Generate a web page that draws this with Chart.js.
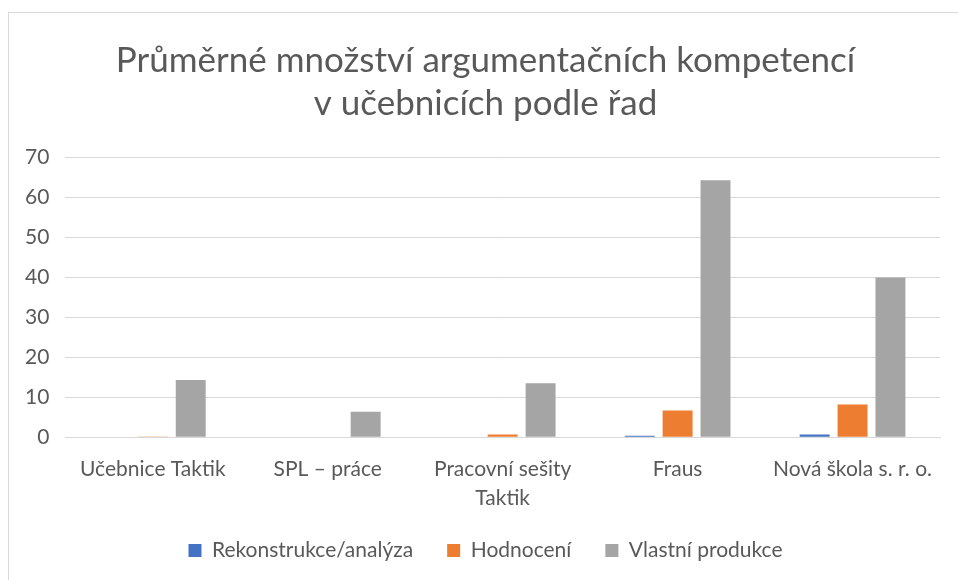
<!DOCTYPE html>
<html>
<head>
<meta charset="utf-8">
<script src="https://cdn.jsdelivr.net/npm/chart.js@4"></script>
<style>
  body { margin: 0; background: #fff; }
  .chart-box {
    position: absolute;
    left: 8px;
    top: 12px;
    width: 960px;
    height: 580px;
    border: 1px solid #d9d9d9;
    box-sizing: border-box;
  }
  canvas { display: block; }
</style>
</head>
<body>
<div class="chart-box">
  <canvas id="chart" width="940" height="566"></canvas>
</div>
<script>
const categories = [
  "Učebnice Taktik",
  "SPL – práce",
  ["Pracovní sešity", "Taktik"],
  "Fraus",
  "Nová škola s. r. o."
];
const seriesNames = ["Rekonstrukce/analýza", "Hodnocení", "Vlastní produkce"];
const rekonstrukce = [0, 0, 0, 0.4, 0.7];
const hodnoceni = [0.2, 0, 0.7, 6.7, 8.2];
const vlastniProdukce = [14.3, 6.4, 13.5, 64.2, 39.9];
const yTicks = [0, 10, 20, 30, 40, 50, 60, 70];

const colors = ["#4472C4", "#ED7D31", "#A5A5A5"];
const textColor = "#595959";
const fontFamily = "Lato, 'Open Sans', sans-serif";

// the y labels sit in the left padding, so let them draw there
const yLabelRoom = {
  id: "yLabelRoom",
  afterLayout(chart) {
    chart.scales.y.left = 0;
  },
};

const ctx = document.getElementById("chart");

new Chart(ctx, {
  type: "bar",
  data: {
    labels: categories,
    datasets: [rekonstrukce, hodnoceni, vlastniProdukce].map((values, i) => ({
      label: seriesNames[i],
      data: values,
      backgroundColor: colors[i],
      borderWidth: 0,
      categoryPercentage: 0.65,
      barPercentage: 0.79,
    })),
  },
  plugins: [yLabelRoom],
  options: {
    responsive: false,
    animation: false,
    layout: {
      padding: { left: 22, right: 9, top: 8, bottom: 8 },
    },
    plugins: {
      title: {
        display: true,
        text: ["Průměrné množství argumentačních kompetencí", "v učebnicích podle řad"],
        color: textColor,
        font: { family: fontFamily, size: 35, weight: "normal", lineHeight: 1.23 },
        padding: { top: 18, bottom: 32 },
      },
      legend: {
        position: "bottom",
        labels: {
          color: textColor,
          font: { family: fontFamily, size: 21 },
          boxWidth: 13,
          boxHeight: 13,
          padding: 34,
        },
      },
      tooltip: { enabled: false },
    },
    scales: {
      x: {
        grid: { display: false },
        border: { color: "#d9d9d9" },
        afterFit: (axis) => {
          axis.height -= 16;
        },
        ticks: {
          color: textColor,
          font: { family: fontFamily, size: 21, lineHeight: 1.35 },
          maxRotation: 0,
          padding: 10,
        },
      },
      y: {
        min: 0,
        max: 70,
        afterBuildTicks: (axis) => {
          axis.ticks = yTicks.map((v) => ({ value: v }));
        },
        afterFit: (axis) => {
          axis.width -= 22;
        },
        grid: { color: "#d9d9d9", drawTicks: false },
        border: { display: false },
        ticks: {
          color: textColor,
          font: { family: fontFamily, size: 21 },
          padding: 16,
        },
      },
    },
  },
});
</script>
</body>
</html>
